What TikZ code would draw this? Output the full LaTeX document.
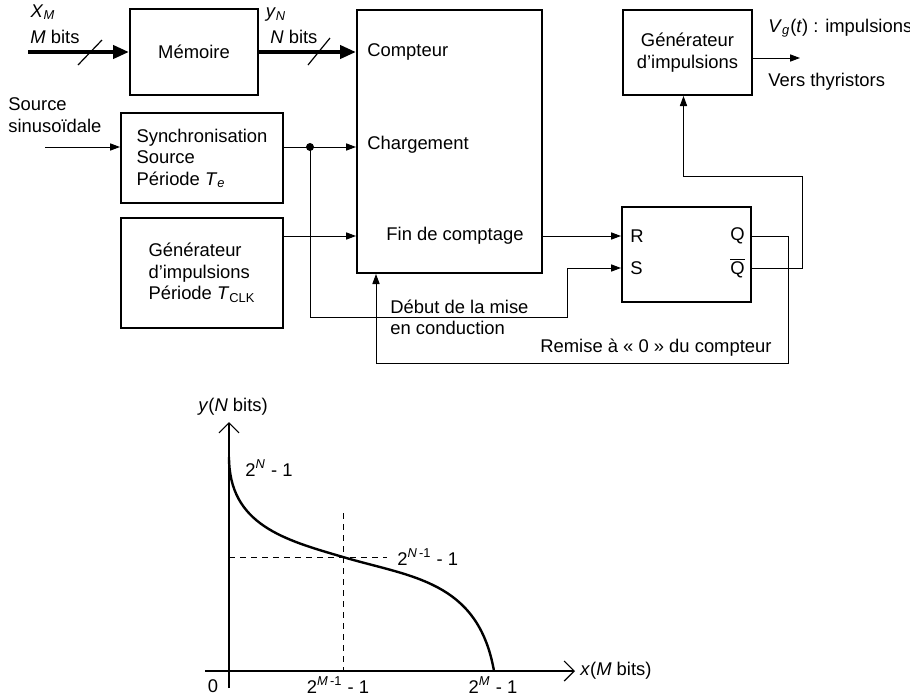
\documentclass[tikz,border=0pt]{standalone}
\usepackage{fontspec}
\setmainfont{Liberation Sans}
\usepackage{tikz}
\usetikzlibrary{arrows.meta,calc}

\begin{document}
\begin{tikzpicture}[
  x=0.5pt, y=-0.5pt,
  every node/.style={font=\fontsize{9.2}{10.8}\selectfont, inner sep=0pt},
  bloc/.style={draw, line width=1pt, align=center},
  arr/.style={-{Triangle[length=5pt,width=3.6pt]}, line width=0.5pt},
  bus/.style={-{Triangle[length=8pt,width=6.5pt]}, line width=2pt},
  slash/.style={line width=0.6pt},
  axe/.style={-{Straight Barb[length=5pt,width=10pt]}, line width=0.6pt},
  guide/.style={line width=0.5pt, dash pattern=on 3pt off 2.5pt},
  courbe/.style={line width=1.2pt}
]
  \useasboundingbox (0,0) rectangle (910,697);

  % blocs
  \node[bloc, minimum width=64pt, minimum height=43pt] (mem) at (194,52) {Mémoire};
  \node[bloc, minimum width=92.5pt, minimum height=131.5pt] (cpt) at (449.5,141.5) {};
  \node[bloc, minimum width=81pt, minimum height=45pt, align=left] (sync) at (202,158)
    {Synchronisation\\Source\\Période \textit{T}\textsubscript{\textit{e}}};
  \node[bloc, minimum width=81pt, minimum height=55pt, align=left] (clk) at (202,273)
    {Générateur\\d'impulsions\\Période \textit{T}\textsubscript{CLK}};
  \node[bloc, minimum width=64.5pt, minimum height=47.5pt] (rs) at (686.5,254.5) {};
  \node[bloc, minimum width=64.5pt, minimum height=42.5pt] (gen) at (687.5,52.5)
    {Générateur\\d'impulsions};

  % entrees du compteur et de la bascule
  \node[anchor=west] (lcpt) at (367,52) {Compteur};
  \node[anchor=west] (lchg) at (367,145) {Chargement};
  \node (lfin) at (455,236) {Fin de comptage};
  \node[anchor=west] (lr) at (630,236) {R};
  \node[anchor=west] (ls) at (630,268) {S};
  \node[anchor=east] (lq) at (745,236) {Q};
  \node[anchor=east] (lqb) at (745,268) {$\overline{\mbox{Q}}$};

  % textes libres
  \node (xm) at (43,12) {\textit{X}\textsubscript{\textit{M}}};
  \node[anchor=west] (mbits) at (30,37) {\textit{M} bits};
  \node (yn) at (276,15) {\textit{y}\textsubscript{\textit{N}}};
  \node[anchor=west] (nbits) at (270,37) {\textit{N} bits};
  \node[anchor=west, align=left] (src) at (8,115) {Source\\sinusoïdale};
  \node[anchor=west] (vgt) at (768,28) {\textit{V}\textsubscript{\textit{g}}(\textit{t}) : impulsions};
  \node[anchor=west] (thy) at (768,82) {Vers thyristors};
  \node[anchor=west, align=left] (deb) at (390,317.5) {Début de la mise\\en conduction};
  \node[anchor=west] (rem) at (540,348) {Remise à « 0 » du compteur};

  % liaisons
  \coordinate (xin) at (28,52);
  \draw[bus] (xin) -- (mem);
  \draw[bus] (mem) -- (mem -| cpt.west);
  \draw[slash] (78,65) -- (102,40);
  \draw[slash] (308,65) -- (330,38);

  \coordinate (sin) at (45,147);
  \draw[arr] (sin) -- (sin -| sync.west);
  \coordinate (syncout) at (sync.east |- sin);
  \coordinate (dot) at (310,147);
  \draw[arr] (syncout) -- (syncout -| cpt.west);
  \fill (dot) circle (2pt);
  \coordinate (clkout) at (clk.east |- lfin);
  \draw[arr] (clkout) -- (clkout -| cpt.west);
  \draw[arr] (lfin -| cpt.east) -- (lfin -| rs.west);

  \coordinate (s1) at (567,317);
  \draw[arr] (dot) |- (s1) |- (ls -| rs.west);
  \coordinate (q1) at (788,363);
  \draw[arr] (lq -| rs.east) -| (q1) -| ($(cpt.south west)+(20,0)$);
  \coordinate (qb1) at (802,176);
  \draw[arr] (lqb -| rs.east) -| (qb1) -| ($(gen.south)+(-4,0)$);
  \coordinate (vg) at (800,58);
  \draw[arr] (gen.east |- vg) -- (vg);

  % caracteristique y(x)
  \coordinate (ybas) at (229,688);
  \coordinate (yhaut) at (229,422);
  \coordinate (xgauche) at (205,671);
  \coordinate (xdroite) at (575,671);
  \draw[axe] (ybas) -- (yhaut);
  \draw[axe] (xgauche) -- (xdroite);
  \node (ylab) at (233,407) {\textit{y}(\textit{N} bits)};
  \node[anchor=west] (xlab) at (580,671) {\textit{x}(\textit{M} bits)};
  \node (zero) at (213,686) {0};

  \coordinate (mil) at (343,557);
  \draw[guide] (mil -| yhaut) -- (387,557);
  \draw[guide] (343,513) -- (mil |- xdroite);
  \draw[courbe] (229,457) .. controls (229,525) and (285,540) .. (mil)
    .. controls (410,577) and (478,580) .. (494,671);

  \node[anchor=west] (ymax) at (245,468) {2\textsuperscript{\textit{N}} - 1};
  \node[anchor=west] (ymil) at (397,557) {2\textsuperscript{\textit{N}\,-1} - 1};
  \node (xmil) at (338,685) {2\textsuperscript{\textit{M}\,-1} - 1};
  \node (xmax) at (493,685) {2\textsuperscript{\textit{M}} - 1};
\end{tikzpicture}
\end{document}
